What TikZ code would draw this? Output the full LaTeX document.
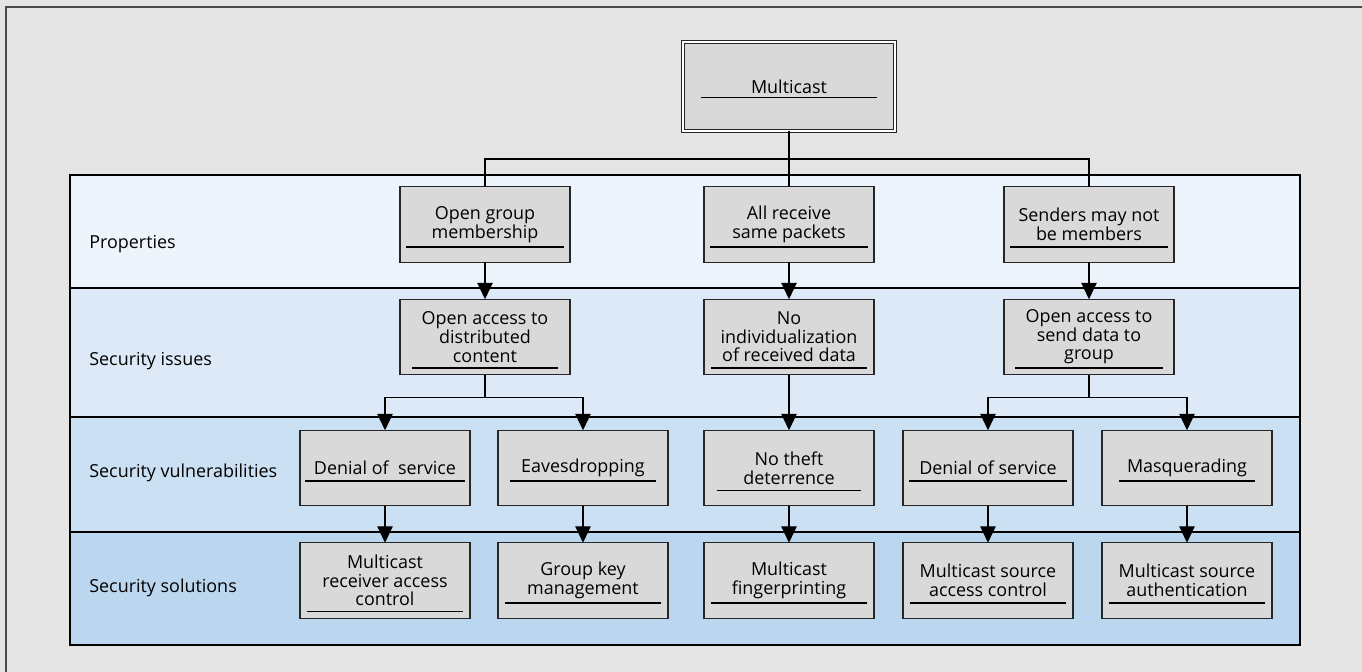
\documentclass[tikz,border=0pt]{standalone}
\usepackage{fontspec}
\setmainfont{Open Sans}
\usetikzlibrary{arrows.meta,calc}
\definecolor{bgGrau}{HTML}{E5E5E5}
\definecolor{boxGrau}{HTML}{D9D9D9}
\definecolor{rahmenGrau}{HTML}{4A4A4A}
\definecolor{bandEins}{HTML}{EEF4FC}
\definecolor{bandZwei}{HTML}{DDE9F7}
\definecolor{bandDrei}{HTML}{CCE0F4}
\definecolor{bandVier}{HTML}{BBD6EF}
\tikzset{
  sbox/.style={draw=black!85,fill=boxGrau,line width=0.7pt,minimum width=34mm,
    minimum height=15.1mm,inner sep=0pt,outer sep=0pt,align=center,
    font=\fontsize{10.2}{10.6}\selectfont},
  flow/.style={-{Triangle[width=3.1mm,length=3.3mm]},line width=0.7pt},
  link/.style={line width=0.7pt},
  rowlabel/.style={anchor=base west,inner sep=0pt,font=\fontsize{10.2}{10.6}\selectfont},
}
% underline under the text of a box: node, offset below centre, half length
\newcommand{\uline}[3]{\draw[line width=0.6pt] ($(#1.center)+(-#3,#2)$) -- ($(#1.center)+(#3,#2)$);}

\begin{document}
\begin{tikzpicture}[x=0.2mm,y=-0.2mm]
\useasboundingbox (0,0) rectangle (1362,672);
\fill[bgGrau] (0,0) rectangle (1362,672);
\draw[rahmenGrau,line width=0.6pt] (6,672)--(6,7)--(1362,7);
% bands
\fill[bandEins] (70,175) rectangle (1300,288);
\fill[bandZwei] (70,288) rectangle (1300,417);
\fill[bandDrei] (70,417) rectangle (1300,532);
\fill[bandVier] (70,532) rectangle (1300,645);
\draw[link] (70,288)--(1300,288);
\draw[link] (70,417)--(1300,417);
\draw[link] (70,532)--(1300,532);
\draw[link] (70,175) rectangle (1300,645);
\node[rowlabel] (lp) at (89,248) {Properties};
\node[rowlabel] (li) at (89,365) {Security issues};
\node[rowlabel] (lv) at (89,477) {Security vulnerabilities};
\node[rowlabel] (ls) at (89,592) {Security solutions};

% top box
\node[sbox,double,line width=0.5pt,double distance=1.6pt,minimum width=42.4mm,minimum height=17.8mm] (mc) at (789,86.5) {Multicast};
\uline{mc}{11}{88}

% properties
\node[sbox] (p1) at (485,224.5) {Open group\\membership};
\node[sbox] (p2) at (789,224.5) {All receive\\same packets};
\node[sbox] (p3) at (1089,224.5) {Senders may not\\be members};
\uline{p1}{22.5}{79}
\uline{p2}{22.5}{79}
\uline{p3}{22.5}{79}

% issues
\node[sbox] (i1) at (485,337) {Open access to\\distributed\\content};
\node[sbox] (i2) at (789,337) {No\\individualization\\of received data};
\node[sbox] (i3) at (1089,337) {Open access to\\send data to\\group};
\uline{i1}{31}{73}
\uline{i2}{31}{78}
\uline{i3}{31}{74}

% vulnerabilities
\node[sbox] (v1) at (385,468) {Denial of~ service};
\node[sbox] (v2) at (583,468) {Eavesdropping};
\node[sbox] (v3) at (789,468) {No theft\\deterrence};
\node[sbox] (v4) at (988,468) {Denial of service};
\node[sbox] (v5) at (1187,468) {Masquerading};
\uline{v1}{13}{80}
\uline{v2}{13}{73}
\uline{v3}{22.5}{72}
\uline{v4}{13}{79}
\uline{v5}{13}{68}

% solutions
\node[sbox] (s1) at (385,580.5) {Multicast\\receiver access\\control};
\node[sbox] (s2) at (583,580.5) {Group key\\management};
\node[sbox] (s3) at (789,580.5) {Multicast\\fingerprinting};
\node[sbox] (s4) at (988,580.5) {Multicast source\\access control};
\node[sbox] (s5) at (1187,580.5) {Multicast source\\authentication};
\uline{s1}{31}{78}
\uline{s2}{22.5}{78}
\uline{s3}{22.5}{78}
\uline{s4}{22.5}{78}
\uline{s5}{22.5}{78}

% connectors
\draw[link] (mc.south) -- ++(0,28) -| (p1.north);
\draw[link] (mc.south) -- ++(0,28) -| (p3.north);
\draw[link] (mc.south) -- (p2.north);
\draw[flow] (p1) -- (i1);
\draw[flow] (p2) -- (i2);
\draw[flow] (p3) -- (i3);
\draw[flow] (i1.south) -- ++(0,23) -| (v1.north);
\draw[flow] (i1.south) -- ++(0,23) -| (v2.north);
\draw[flow] (i2) -- (v3);
\draw[flow] (i3.south) -- ++(0,23) -| (v4.north);
\draw[flow] (i3.south) -- ++(0,23) -| (v5.north);
\draw[flow] (v1) -- (s1);
\draw[flow] (v2) -- (s2);
\draw[flow] (v3) -- (s3);
\draw[flow] (v4) -- (s4);
\draw[flow] (v5) -- (s5);
\end{tikzpicture}
\end{document}
